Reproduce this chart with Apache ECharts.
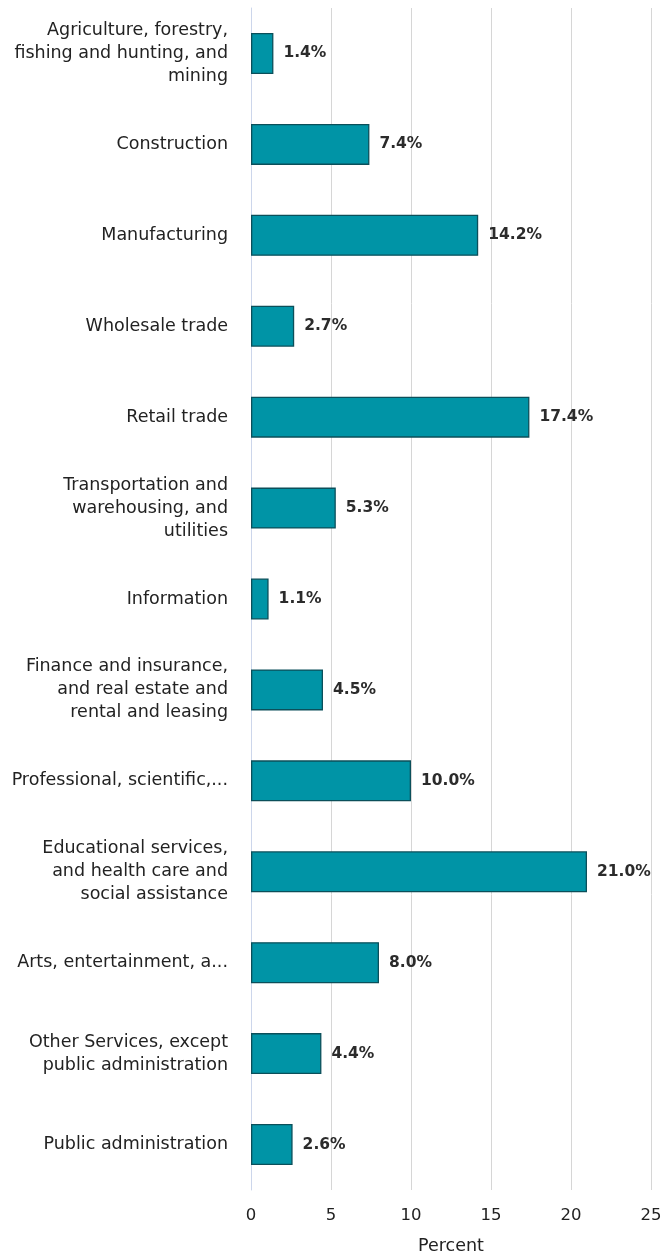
<!DOCTYPE html>
<html>
<head>
<meta charset="utf-8">
<script src="https://cdn.jsdelivr.net/npm/echarts@6/dist/echarts.min.js"></script>
<style>
html,body{margin:0;padding:0;background:#fff;}
#chart{width:662px;height:1257px;}
</style>
</head>
<body>
<div id="chart"></div>
<script>
const categories = [
  "Agriculture, forestry,\nfishing and hunting, and\nmining",
  "Construction",
  "Manufacturing",
  "Wholesale trade",
  "Retail trade",
  "Transportation and\nwarehousing, and\nutilities",
  "Information",
  "Finance and insurance,\nand real estate and\nrental and leasing",
  "Professional, scientific,...",
  "Educational services,\nand health care and\nsocial assistance",
  "Arts, entertainment, a...",
  "Other Services, except\npublic administration",
  "Public administration"
];
const values = [1.4, 7.4, 14.2, 2.7, 17.4, 5.3, 1.1, 4.5, 10.0, 21.0, 8.0, 4.4, 2.6];
const xTicks = [0, 5, 10, 15, 20, 25];
const xTitle = "Percent";

const FONT = "DejaVu Sans";
const chart = echarts.init(document.getElementById('chart'), null, {renderer: 'canvas'});
chart.setOption({
  animation: false,
  backgroundColor: '#ffffff',
  grid: {left: 251, right: 11, top: 8, bottom: 67, containLabel: false, outerBoundsMode: 'none'},
  xAxis: {
    type: 'value',
    min: xTicks[0],
    max: xTicks[xTicks.length - 1],
    interval: 5,
    name: xTitle,
    nameLocation: 'middle',
    nameGap: 47,
    nameTextStyle: {fontFamily: FONT, fontSize: 17.5, color: '#222'},
    axisLine: {show: false},
    axisTick: {show: false},
    axisLabel: {fontFamily: FONT, fontSize: 16.5, color: '#222', margin: 17},
    splitLine: {show: true, lineStyle: {color: '#d6d6d6', width: 1}}
  },
  yAxis: {
    type: 'category',
    data: categories,
    inverse: true,
    axisLine: {show: true, lineStyle: {color: '#ccd6eb', width: 1}},
    axisTick: {show: false},
    axisLabel: {fontFamily: FONT, fontSize: 17.5, color: '#222', margin: 23, lineHeight: 23, align: 'right'},
    splitLine: {show: false}
  },
  series: [{
    type: 'bar',
    data: values,
    barWidth: 41,
    itemStyle: {color: '#0094a6', borderColor: '#0b4f5a', borderWidth: 1.3},
    label: {
      show: true,
      position: 'right',
      distance: 10,
      fontFamily: FONT,
      fontSize: 15.5,
      fontWeight: 'bold',
      color: '#2b2b2b',
      formatter: p => p.value.toFixed(1) + '%'
    }
  }]
});
</script>
</body>
</html>
